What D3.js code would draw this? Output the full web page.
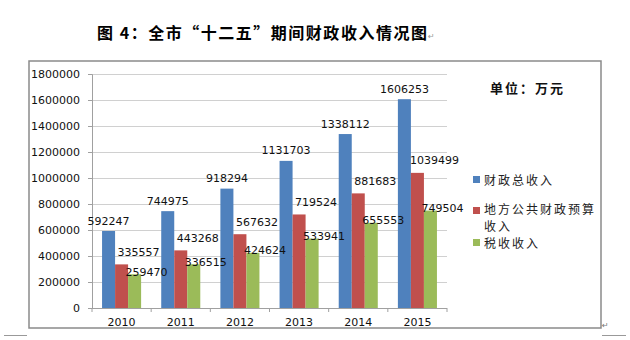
<!DOCTYPE html>
<html><head><meta charset="utf-8">
<script src="https://cdn.jsdelivr.net/npm/d3@7"></script>
<style>
html,body{margin:0;padding:0;background:#fff;}
svg{display:block;}
</style></head>
<body>
<script>
// ---- data ----
const years = ["2010","2011","2012","2013","2014","2015"];
const seriesNames = ["财政总收入","地方公共财政预算收入","税收收入"];
const totalRevenue = [592247, 744975, 918294, 1131703, 1338112, 1606253];
const publicBudgetRevenue = [335557, 443268, 567632, 719524, 881683, 1039499];
const taxRevenue = [259470, 336515, 424624, 533941, 655553, 749504];
const yTicks = [0,200000,400000,600000,800000,1000000,1200000,1400000,1600000,1800000];
const titleText = "图 4：全市“十二五”期间财政收入情况图";
const unitText = "单位：万元";

// ---- styles ----
const colors = ["#4F81BD","#C0504D","#9BBB59"];
const labelNudge = [{dx:0,dy:-10},{dx:17,dy:-12},{dx:12,dy:-2}];
const W = 630, H = 340;
const plot = {left:92, right:447, top:74, bottom:308};

const seriesValues = [totalRevenue, publicBudgetRevenue, taxRevenue];

const svg = d3.select("body").append("svg").attr("width",W).attr("height",H);

// title
svg.append("text").attr("x",97).attr("y",39)
  .attr("textLength",330).attr("lengthAdjust","spacing")
  .style("font-family","'Noto Sans CJK SC'").style("font-weight","700").style("font-size","16px")
  .attr("fill","#000").text(titleText);
svg.append("text").attr("x",428).attr("y",39).style("font-family","DejaVu Sans").style("font-size","8px")
  .attr("fill","#999").text("↵");

// chart border
svg.append("rect").attr("x",29).attr("y",61).attr("width",572).attr("height",267)
  .attr("fill","#fff").attr("stroke","#8a8a8a").attr("stroke-width",1.5);

const x = d3.scaleBand().domain(years).range([plot.left,plot.right]).paddingInner(0.34).paddingOuter(0.17);
const xs = d3.scaleBand().domain(d3.range(3)).range([0,x.bandwidth()]);
const y = d3.scaleLinear().domain([0,1800000]).range([plot.bottom,plot.top]);

// gridlines
svg.append("g").selectAll("line").data(yTicks.filter(d=>d>0)).join("line")
  .attr("x1",plot.left).attr("x2",plot.right)
  .attr("y1",d=>y(d)+0.5).attr("y2",d=>y(d)+0.5)
  .attr("stroke","#d0d0d0").attr("stroke-width",1);

// y axis
const yAxis = svg.append("g").attr("transform",`translate(${plot.left},0)`)
  .call(d3.axisLeft(y).tickValues(yTicks).tickFormat(d3.format("d")).tickSize(4).tickPadding(8));
yAxis.select(".domain").attr("stroke","#a0a0a0");
yAxis.selectAll(".tick line").attr("stroke","#a0a0a0");
yAxis.selectAll("text").style("font-family","DejaVu Sans").style("font-size","11px").attr("fill","#111");

// x axis
const xAxisG = svg.append("g").attr("transform",`translate(0,${plot.bottom})`);
xAxisG.append("line").attr("x1",plot.left).attr("x2",plot.right).attr("y1",0.5).attr("y2",0.5).attr("stroke","#a0a0a0");
const step = x.step();
xAxisG.selectAll("line.tk").data(d3.range(years.length+1)).join("line").attr("class","tk")
  .attr("x1",i=>plot.left+i*step).attr("x2",i=>plot.left+i*step).attr("y1",0).attr("y2",4).attr("stroke","#a0a0a0");
xAxisG.selectAll("text").data(years).join("text")
  .attr("x",d=>x(d)+x.bandwidth()/2).attr("y",14).attr("dominant-baseline","central").attr("text-anchor","middle")
  .style("font-family","DejaVu Sans").style("font-size","11px").attr("fill","#111").text(d=>d);

// bars
const barsData = [];
seriesValues.forEach((vals,s)=>vals.forEach((v,i)=>barsData.push({s,year:years[i],v})));
svg.append("g").selectAll("rect").data(barsData).join("rect")
  .attr("x",d=>x(d.year)+xs(d.s)).attr("width",xs.bandwidth())
  .attr("y",d=>y(d.v)).attr("height",d=>y(0)-y(d.v))
  .attr("fill",d=>colors[d.s]);

// labels
svg.append("g").selectAll("text").data(barsData).join("text")
  .attr("x",d=>x(d.year)+xs(d.s)+xs.bandwidth()/2+labelNudge[d.s].dx)
  .attr("y",d=>y(d.v)+labelNudge[d.s].dy)
  .attr("text-anchor","middle").attr("dominant-baseline","central")
  .style("font-family","DejaVu Sans").style("font-size","11px").attr("fill","#111")
  .text(d=>d.v);

// unit
svg.append("text").attr("x",490).attr("y",87).attr("dominant-baseline","central")
  .style("font-family","'Noto Sans CJK SC'").style("font-weight","700").style("font-size","13px")
  .style("letter-spacing","2px").attr("fill","#111").text(unitText);

// legend
const legendRows = [
  {s:0, lines:[seriesNames[0]], cy:179, ty:179},
  {s:1, lines:["地方公共财政预算","收入"], cy:210, ty:208},
  {s:2, lines:[seriesNames[2]], cy:242, ty:242}
];
const lg = svg.append("g");
legendRows.forEach(r=>{
  lg.append("rect").attr("x",473).attr("y",r.cy-3).attr("width",7).attr("height",7).attr("fill",colors[r.s]);
  r.lines.forEach((ln,j)=>{
    lg.append("text").attr("x",484).attr("y",r.ty+j*17.5).attr("dominant-baseline","central")
      .style("font-family","'Noto Sans CJK SC'").style("font-size","12px").style("letter-spacing","2px")
      .attr("fill","#222").text(ln);
  });
});

// page marks
svg.append("line").attr("x1",4).attr("x2",27).attr("y1",335.5).attr("y2",335.5).attr("stroke","#999");
svg.append("line").attr("x1",602).attr("x2",626).attr("y1",335.5).attr("y2",335.5).attr("stroke","#999");
svg.append("text").attr("x",602).attr("y",328).style("font-family","DejaVu Sans").style("font-size","8px")
  .attr("fill","#777").text("↵");
</script>
</body></html>
